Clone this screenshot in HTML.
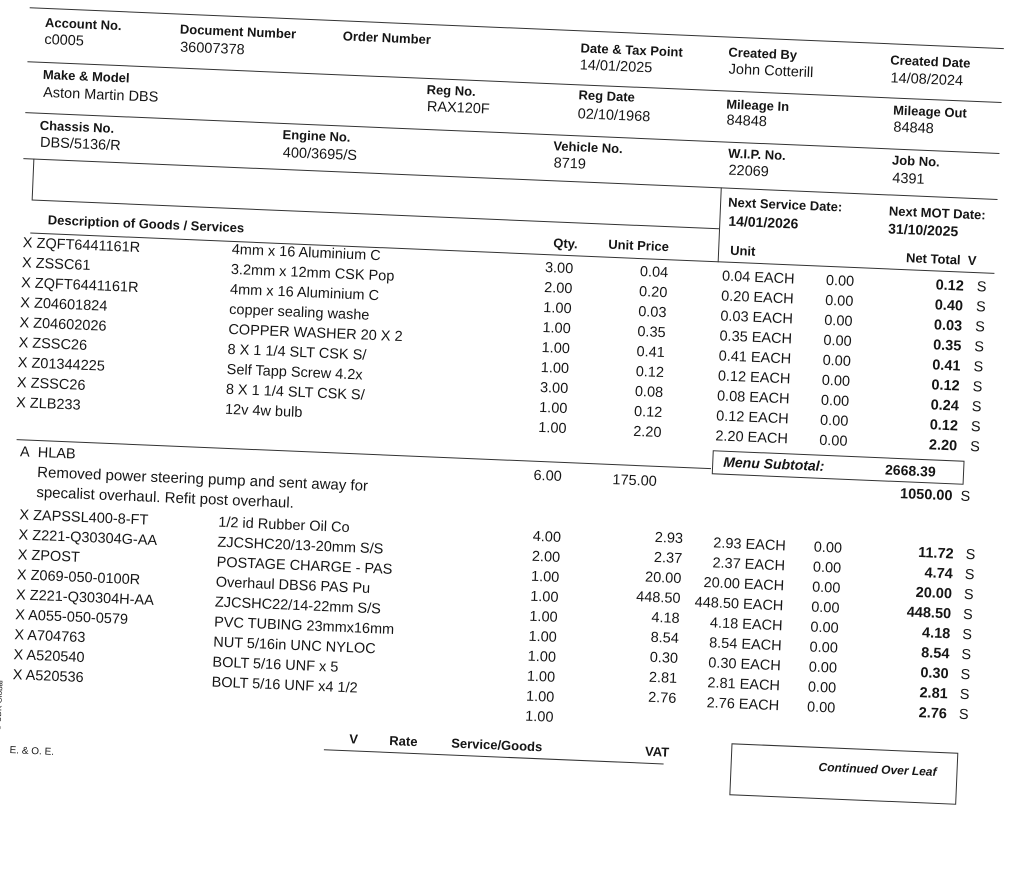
<!DOCTYPE html>
<html><head><meta charset="utf-8"><style>
html,body{margin:0;padding:0;background:#fff;}
body{width:1024px;height:784px;overflow:hidden;position:relative;font-family:"Liberation Sans",Arial,sans-serif;color:#151515;}
#pg{position:absolute;left:0;top:0;width:1100px;height:850px;transform:rotate(2.4deg);transform-origin:0 0;}
#pg div{position:absolute;white-space:nowrap;}
.l{font-weight:bold;font-size:13px;}
.v{font-size:14.5px;}
.r{text-align:right;}
.b{font-weight:bold;}
.hl{position:absolute;height:0;border-top:1.3px solid #333;}
.vl{position:absolute;width:0;border-left:1.3px solid #333;}
</style></head><body>
<div id="pg">
<div class="hl" style="left:30px;top:6px;width:975px"></div>
<div class="hl" style="left:30px;top:60px;width:975px"></div>
<div class="hl" style="left:30px;top:111px;width:975px"></div>
<div class="hl" style="left:30px;top:157px;width:975px"></div>
<div class="hl" style="left:40px;top:198px;width:688px"></div>
<div class="vl" style="left:40px;top:157px;height:41px"></div>
<div class="vl" style="left:728px;top:157px;height:75px"></div>
<div class="hl" style="left:40px;top:231px;width:965px"></div>
<div class="hl" style="left:35px;top:438px;width:695px"></div>
<div class="hl" style="left:355px;top:735px;width:340px"></div>
<div style="left:762px;top:712px;width:225px;height:50px;border:1.3px solid #333"></div>

<div class="l" style="left:46px;top:13px">Account No.</div>
<div class="v" style="left:46px;top:30px">c0005</div>
<div class="l" style="left:181px;top:14px">Document Number</div>
<div class="v" style="left:182px;top:32px">36007378</div>
<div class="l" style="left:344px;top:14px">Order Number</div>
<div class="l" style="left:582px;top:16px">Date &amp; Tax Point</div>
<div class="v" style="left:582px;top:33px">14/01/2025</div>
<div class="l" style="left:730px;top:14px">Created By</div>
<div class="v" style="left:731px;top:31px">John Cotterill</div>
<div class="l" style="left:892px;top:15px">Created Date</div>
<div class="v" style="left:893px;top:33px">14/08/2024</div>
<div class="l" style="left:46px;top:65px">Make &amp; Model</div>
<div class="v" style="left:47px;top:83px">Aston Martin DBS</div>
<div class="l" style="left:430px;top:64px">Reg No.</div>
<div class="v" style="left:431px;top:81px">RAX120F</div>
<div class="l" style="left:582px;top:63px">Reg Date</div>
<div class="v" style="left:582px;top:82px">02/10/1968</div>
<div class="l" style="left:730px;top:66px">Mileage In</div>
<div class="v" style="left:731px;top:82px">84848</div>
<div class="l" style="left:897px;top:65px">Mileage Out</div>
<div class="v" style="left:898px;top:82px">84848</div>
<div class="l" style="left:45px;top:116px">Chassis No.</div>
<div class="v" style="left:46px;top:133px">DBS/5136/R</div>
<div class="l" style="left:288px;top:115px">Engine No.</div>
<div class="v" style="left:289px;top:133px">400/3695/S</div>
<div class="l" style="left:559px;top:115px">Vehicle No.</div>
<div class="v" style="left:560px;top:132px">8719</div>
<div class="l" style="left:734px;top:115px">W.I.P. No.</div>
<div class="v" style="left:735px;top:132px">22069</div>
<div class="l" style="left:898px;top:115px">Job No.</div>
<div class="v" style="left:899px;top:133px">4391</div>
<div class="l" style="left:736px;top:164px">Next Service Date:</div>
<div class="v b" style="left:737px;top:182px;font-size:14px">14/01/2026</div>
<div class="l" style="left:897px;top:166px">Next MOT Date:</div>
<div class="v b" style="left:897px;top:183px;font-size:14px">31/10/2025</div>
<div class="l" style="left:57px;top:210px">Description of Goods / Services</div>
<div class="l" style="left:563px;top:212px">Qty.</div>
<div class="l" style="left:618px;top:211px">Unit Price</div>
<div class="l" style="left:740px;top:212px">Unit</div>
<div class="l" style="left:916px;top:212px">Net Total&nbsp; V</div>

<div class="v" style="left:33px;top:232px;line-height:20px">X ZQFT6441161R<br>X ZSSC61<br>X ZQFT6441161R<br>X Z04601824<br>X Z04602026<br>X ZSSC26<br>X Z01344225<br>X ZSSC26<br>X ZLB233</div>
<div class="v" style="left:242px;top:230px;line-height:20px">4mm x 16 Aluminium C<br>3.2mm x 12mm CSK Pop<br>4mm x 16 Aluminium C<br>copper sealing washe<br>COPPER WASHER 20 X 2<br>8 X 1 1/4 SLT CSK S/<br>Self Tapp Screw 4.2x<br>8 X 1 1/4 SLT CSK S/<br>12v 4w bulb</div>
<div class="v r" style="left:509px;width:75px;top:235px;line-height:20px">3.00<br>2.00<br>1.00<br>1.00<br>1.00<br>1.00<br>3.00<br>1.00<br>1.00</div>
<div class="v r" style="left:601px;width:78px;top:235px;line-height:20px">0.04<br>0.20<br>0.03<br>0.35<br>0.41<br>0.12<br>0.08<br>0.12<br>2.20</div>
<div class="v" style="left:733px;top:236px;line-height:20px">0.04 EACH<br>0.20 EACH<br>0.03 EACH<br>0.35 EACH<br>0.41 EACH<br>0.12 EACH<br>0.08 EACH<br>0.12 EACH<br>2.20 EACH</div>
<div class="v" style="left:837px;top:236px;line-height:20px">0.00<br>0.00<br>0.00<br>0.00<br>0.00<br>0.00<br>0.00<br>0.00<br>0.00</div>
<div class="v r b" style="left:900px;width:75px;top:236px;line-height:20px">0.12<br>0.40<br>0.03<br>0.35<br>0.41<br>0.12<br>0.24<br>0.12<br>2.20</div>
<div class="v" style="left:988px;top:236px;line-height:20px">S<br>S<br>S<br>S<br>S<br>S<br>S<br>S<br>S</div>

<div class="v" style="left:39px;top:443px">A&nbsp; HLAB</div>
<div style="left:731px;top:420px;width:250px;height:22px;border:1.3px solid #333"></div>
<div class="v b" style="left:742px;top:423px;font-style:italic;font-size:14px">Menu Subtotal:</div>
<div class="v b" style="left:904px;top:424px;font-size:14px">2668.39</div>
<div class="v" style="left:57px;top:461px;font-size:15px;line-height:20px">Removed power steering pump and sent away for<br>specalist overhaul. Refit post overhaul.</div>
<div class="v" style="left:553px;top:445px">6.00</div>
<div class="v" style="left:632px;top:446px">175.00</div>
<div class="v b" style="left:920px;top:448px">1050.00 <span style="font-weight:normal">&nbsp;S</span></div>

<div class="v" style="left:41px;top:504px;line-height:20px">X ZAPSSL400-8-FT<br>X Z221-Q30304G-AA<br>X ZPOST<br>X Z069-050-0100R<br>X Z221-Q30304H-AA<br>X A055-050-0579<br>X A704763<br>X A520540<br>X A520536</div>
<div class="v" style="left:240px;top:503px;line-height:20px">1/2 id Rubber Oil Co<br>ZJCSHC20/13-20mm S/S<br>POSTAGE CHARGE - PAS<br>Overhaul DBS6 PAS Pu<br>ZJCSHC22/14-22mm S/S<br>PVC TUBING 23mmx16mm<br>NUT 5/16in UNC NYLOC<br>BOLT 5/16 UNF x 5<br>BOLT 5/16 UNF x4 1/2</div>
<div class="v r" style="left:508px;width:75px;top:504px;line-height:20px">4.00<br>2.00<br>1.00<br>1.00<br>1.00<br>1.00<br>1.00<br>1.00<br>1.00<br>1.00</div>
<div class="v r" style="left:617px;width:88px;top:500px;line-height:20px">2.93<br>2.37<br>20.00<br>448.50<br>4.18<br>8.54<br>0.30<br>2.81<br>2.76</div>
<div class="v r" style="left:690px;width:118px;top:503px;line-height:20px">2.93 EACH<br>2.37 EACH<br>20.00 EACH<br>448.50 EACH<br>4.18 EACH<br>8.54 EACH<br>0.30 EACH<br>2.81 EACH<br>2.76 EACH</div>
<div class="v" style="left:836px;top:503px;line-height:20px">0.00<br>0.00<br>0.00<br>0.00<br>0.00<br>0.00<br>0.00<br>0.00<br>0.00</div>
<div class="v r b" style="left:899px;width:77px;top:504px;line-height:20px">11.72<br>4.74<br>20.00<br>448.50<br>4.18<br>8.54<br>0.30<br>2.81<br>2.76</div>
<div class="v" style="left:988px;top:504px;line-height:20px">S<br>S<br>S<br>S<br>S<br>S<br>S<br>S<br>S</div>

<div style="left:41px;top:744px;font-size:10px">E. &amp; O. E.</div>
<div class="l" style="left:380px;top:716px">V</div>
<div class="l" style="left:420px;top:716px">Rate</div>
<div class="l" style="left:482px;top:716px">Service/Goods</div>
<div class="l" style="left:676px;top:716px">VAT</div>
<div class="l" style="left:850px;top:725px;font-style:italic;font-size:12px">Continued Over Leaf</div>
<div style="left:24px;top:730px;font-size:8px;transform:rotate(-90deg);transform-origin:0 0">© CDK Global</div>
</div>
</body></html>
